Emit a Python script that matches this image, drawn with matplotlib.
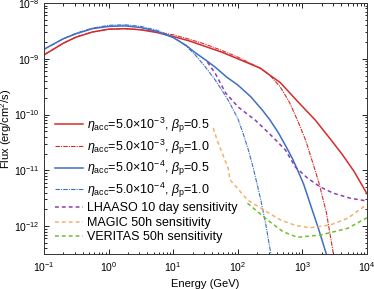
import numpy as np
import matplotlib
matplotlib.use("Agg")
import matplotlib.pyplot as plt

plt.rcParams['font.family'] = ['Liberation Sans', 'DejaVu Sans']
plt.rcParams['mathtext.fontset'] = 'custom'
plt.rcParams['mathtext.rm'] = 'Liberation Sans'
plt.rcParams['mathtext.it'] = 'Liberation Sans:italic'
plt.rcParams['font.size'] = 8

# log10(E/GeV) and log10(flux)
red05_logE = [-1, -0.7, -0.5, -0.25, 0, 0.25, 0.5, 0.75, 1.0, 1.25, 1.5, 1.75, 2.0,
              2.35, 2.66, 2.93, 3.2, 3.44, 3.62, 3.8, 4.0]
red05_logF = [-8.93, -8.72, -8.61, -8.52, -8.47, -8.46, -8.48, -8.53, -8.60, -8.68, -8.78,
              -8.88, -9.00, -9.17, -9.43, -9.77, -10.10, -10.45, -10.72, -11.02, -11.42]

red10_logE = [-1, -0.7, -0.5, -0.25, 0, 0.25, 0.5, 0.75, 1.0, 1.25, 1.5, 1.75, 2.0,
              2.35, 2.5, 2.66, 2.8, 2.93, 3.05, 3.17, 3.25, 3.37, 3.48]
red10_logF = [-8.93, -8.72, -8.61, -8.52, -8.47, -8.46, -8.48, -8.52, -8.57, -8.65, -8.74,
              -8.85, -8.97, -9.17, -9.30, -9.51, -9.78, -10.12, -10.46, -10.90, -11.20,
              -11.75, -12.5]

blue05_logE = [-1, -0.7, -0.5, -0.25, 0, 0.25, 0.5, 0.75, 1.0, 1.2, 1.34, 1.5, 1.65, 1.83,
               2.0, 2.2, 2.38, 2.5, 2.63, 2.75, 2.85, 2.92, 3.02, 3.12, 3.25, 3.37]
blue05_logF = [-8.83, -8.64, -8.55, -8.46, -8.42, -8.41, -8.44, -8.51, -8.62, -8.76, -8.89,
               -9.02, -9.15, -9.33, -9.47, -9.68, -9.92, -10.10, -10.33, -10.58, -10.80,
               -10.98, -11.25, -11.60, -12.05, -12.5]

blue10_logE = [-1, -0.7, -0.5, -0.25, 0, 0.25, 0.5, 0.75, 1.0, 1.2, 1.34, 1.5, 1.65, 1.85,
               2.0, 2.08, 2.16, 2.24, 2.35, 2.43, 2.52]
blue10_logF = [-8.83, -8.64, -8.54, -8.45, -8.40, -8.39, -8.42, -8.49, -8.61, -8.77, -8.93,
               -9.15, -9.38, -9.74, -10.07, -10.33, -10.62, -10.96, -11.50, -11.95, -12.55]

lhaaso_logE = [1.53, 1.65, 1.81, 2.01, 2.27, 2.54, 2.74, 2.89, 3.08, 3.28, 3.48, 3.74, 4.0]
lhaaso_logF = [-9.06, -9.26, -9.61, -9.87, -10.10, -10.40, -10.64, -10.94, -11.14, -11.30,
               -11.41, -11.50, -11.55]

magic_logE = [1.62, 1.68, 1.85, 1.88, 2.15, 2.40, 2.66, 2.90, 3.12, 3.43, 3.70, 4.0]
magic_logF = [-10.24, -10.46, -10.96, -11.17, -11.53, -11.71, -11.89, -11.99, -12.03,
              -11.98, -11.86, -11.61]

veritas_logE = [2.15, 2.46, 2.70, 2.92, 3.28, 3.70, 4.0]
veritas_logF = [-11.59, -11.89, -12.10, -12.20, -12.16, -12.04, -11.85]

labels = [r'$\eta_{\rm acc}$=5.0$\times$10$^{-3}$, $\beta_{\rm p}$=0.5',
          r'$\eta_{\rm acc}$=5.0$\times$10$^{-3}$, $\beta_{\rm p}$=1.0',
          r'$\eta_{\rm acc}$=5.0$\times$10$^{-4}$, $\beta_{\rm p}$=0.5',
          r'$\eta_{\rm acc}$=5.0$\times$10$^{-4}$, $\beta_{\rm p}$=1.0',
          'LHAASO 10 day sensitivity',
          'MAGIC 50h sensitivity',
          'VERITAS 50h sensitivity']

red = '#d62b2b'
blue = '#3d6fc6'
purple = '#8b3fae'
orange = '#f5b06a'
green = '#72bd2c'
dashdot = (0, (4, 1, 1, 1))
dashed = (0, (2.5, 2))


def p10(a):
    return 10 ** np.asarray(a)


fig = plt.figure(figsize=(3.74, 2.89), dpi=100)
ax = fig.add_axes([44 / 374, 1 - 254 / 289, 323 / 374, 251 / 289])

ax.plot(p10(red05_logE), p10(red05_logF), color=red, lw=1.1, label=labels[0])
ax.plot(p10(red10_logE), p10(red10_logF), color=red, lw=0.8, ls=dashdot, label=labels[1])
ax.plot(p10(blue05_logE), p10(blue05_logF), color=blue, lw=1.1, label=labels[2])
ax.plot(p10(blue10_logE), p10(blue10_logF), color=blue, lw=0.8, ls=dashdot, label=labels[3])
ax.plot(p10(lhaaso_logE), p10(lhaaso_logF), color=purple, lw=1.1, ls=dashed, label=labels[4])
ax.plot(p10(magic_logE), p10(magic_logF), color=orange, lw=1.1, ls=dashed, label=labels[5])
ax.plot(p10(veritas_logE), p10(veritas_logF), color=green, lw=1.1, ls=dashed, label=labels[6])

ax.set_xscale('log')
ax.set_yscale('log')
ax.set_xlim(0.1, 1e4)
ax.set_ylim(10 ** -12.5, 1e-8)
ax.set_xlabel('Energy (GeV)', labelpad=3.5)
ax.set_ylabel(r'Flux (erg/cm$^2$/s)')
ax.yaxis.set_label_coords(-0.092, 0.5)
ax.tick_params(which='both', direction='in', top=True, right=True, width=0.6)
ax.tick_params(which='major', length=3.5, pad=3, labelsize=7.5)
ax.tick_params(axis='x', which='major', pad=4.5)
ax.tick_params(which='minor', length=1.8)
for s in ax.spines.values():
    s.set_linewidth(0.7)
    s.set_color('#333333')

ax.legend(loc='lower left', bbox_to_anchor=(0.034, 0.042), frameon=False,
          handlelength=2.25, handletextpad=0.3, labelspacing=0.2,
          borderpad=0, borderaxespad=0, fontsize=9)

fig.savefig('out.png', dpi=100)
